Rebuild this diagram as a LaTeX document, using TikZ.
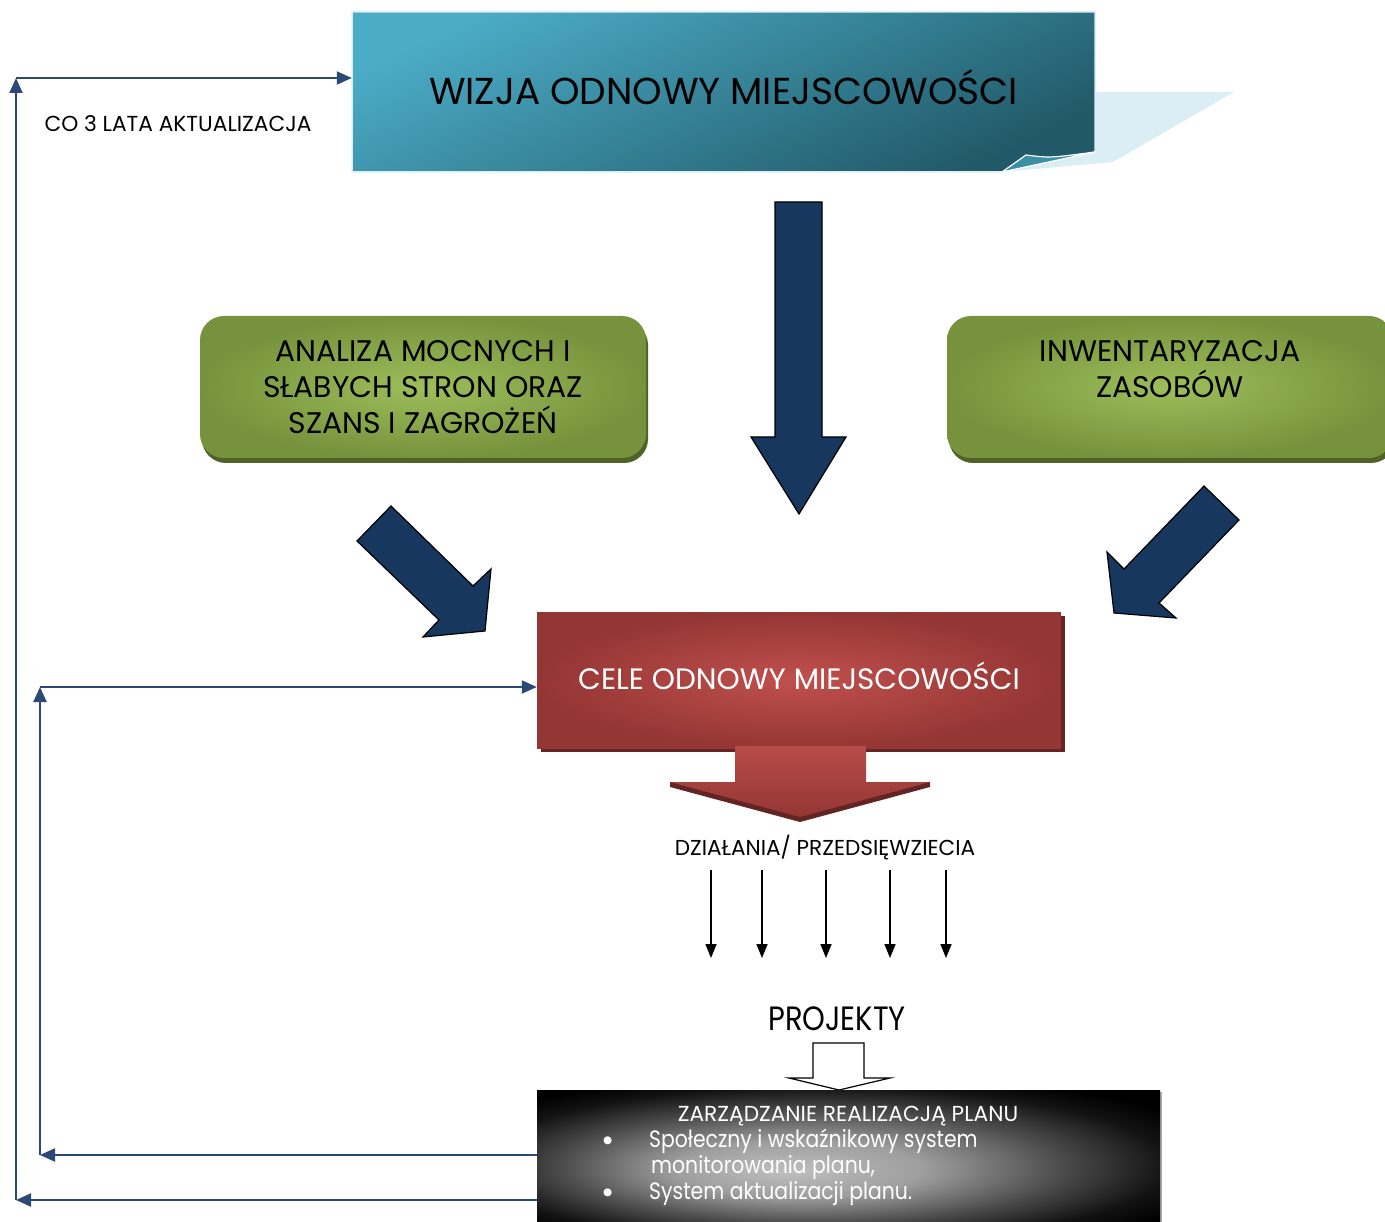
\documentclass[tikz,border=0pt]{standalone}
\usepackage{fontspec}
\setmainfont{Poppins}
\newfontfamily\narrowfont[FakeStretch=0.86]{Poppins}
\usetikzlibrary{arrows.meta,shadows}

\definecolor{navy}{HTML}{17375E}
\definecolor{retblue}{HTML}{2A4A75}
\definecolor{tealhi}{HTML}{4BACC6}
\definecolor{tealdk}{HTML}{215968}
\definecolor{curlteal}{HTML}{3A8FA5}
\definecolor{flapblue}{HTML}{DAEEF3}
\definecolor{greenhi}{HTML}{9DBE5B}
\definecolor{greendk}{HTML}{76923C}
\definecolor{greenshd}{HTML}{4F6228}
\definecolor{redhi}{HTML}{C0504D}
\definecolor{reddk}{HTML}{943634}
\definecolor{redshd}{HTML}{632523}

\pgfdeclareradialshading{planglow}{\pgfpoint{-5bp}{-4bp}}{%
  color(0bp)=(black!25); color(10bp)=(black!38); color(20bp)=(black!70);
  color(28bp)=(black!93); color(33bp)=(black); color(50bp)=(black)}

\tikzset{
  ret/.style={draw=retblue, line width=2.2pt, -{Triangle[length=15pt,width=13pt]}},
  act/.style={draw=black, line width=1.6pt, -{Triangle[length=14pt,width=11pt]}},
  greenbox/.style={rounded corners=24pt, inner color=greenhi, outer color=greendk,
    minimum width=446pt, minimum height=142pt, align=center,
    font=\fontsize{29.8}{36}\selectfont,
    drop shadow={fill=greenshd, opacity=1, shadow xshift=2pt, shadow yshift=-5pt}},
  blockarrow/.style={fill=navy, draw=black, line width=1.2pt, line join=miter},
  whitetext/.style={text=white, inner sep=0pt},
}

\begin{document}
\begin{tikzpicture}[x=1pt,y=-1pt]
\useasboundingbox (0,0) rectangle (1385,1222);
\clip (0,0) rectangle (1385,1222);

% top box with curled corner
\fill[flapblue] (1095,92) -- (1234,92) -- (1113,162) -- (1002,172) -- cycle;
\shade[top color=tealhi, bottom color=tealdk, shading angle=25, draw=flapblue, line width=1.5pt]
  (352,12) -- (1095,12) -- (1095,152) -- (1002,172) -- (352,172) -- cycle;
\filldraw[fill=curlteal, draw=white, line width=1.2pt]
  (1002,172) -- (1026,155) .. controls (1050,158) .. (1095,152) -- cycle;
\node[font=\fontsize{37.5}{40}\selectfont, minimum width=743pt, minimum height=150pt] (wizja) at (723.5,87) {WIZJA ODNOWY MIEJSCOWOŚCI};

% green boxes
\node[greenbox] (analiza) at (423,387) {ANALIZA MOCNYCH I\\SŁABYCH STRON ORAZ\\SZANS I ZAGROŻEŃ};
\node[greenbox] (zasoby) at (1170,387) {INWENTARYZACJA\\ZASOBÓW\\\mbox{}};

% navy block arrows
\draw[blockarrow] (775,202) -- (822,202) -- (822,437) -- (846,437) -- (799,514) -- (751,437) -- (775,437) -- cycle;
\draw[blockarrow] (391,506) -- (473,586) -- (491,569) -- (485,631) -- (423,637) -- (439,620) -- (357,541) -- cycle;
\draw[blockarrow] (1204,486) -- (1239,520) -- (1159,603) -- (1176,618) -- (1114,613) -- (1107,552) -- (1124,569) -- cycle;

% red box
\node[inner color=redhi, outer color=reddk, minimum width=524pt, minimum height=136pt,
  font=\fontsize{29.5}{32}\selectfont, text=white,
  drop shadow={fill=redshd, opacity=1, shadow xshift=4pt, shadow yshift=-4pt}] (cele) at (799,680) {\raisebox{8pt}{CELE ODNOWY MIEJSCOWOŚCI}};
\fill[redshd] (670,782) -- (930,782) -- (930,787) -- (800,822) -- (670,787) -- cycle;
\shade[top color=redhi!95!black, bottom color=reddk]
  (735,746) -- (866,746) -- (866,782) -- (930,782) -- (800,817) -- (670,782) -- (735,782) -- cycle;

% actions
\node[font=\fontsize{21.6}{24}\selectfont] (dzialania) at (825,848) {DZIAŁANIA/ PRZEDSIĘWZIECIA};
\foreach \x [count=\i] in {711,762,826,890,946} {
  \coordinate (t\i) at (\x,870);
  \coordinate (b\i) at (\x,958);
  \draw[act] (t\i) -- (b\i);
}

\node[font=\narrowfont\fontsize{33.7}{36}\selectfont] (projekty) at (837,1019) {PROJEKTY};
\draw[fill=white, draw=black, line width=1.2pt, line join=miter]
  (813,1043) -- (864,1043) -- (864,1078) -- (890,1078) -- (839,1090) -- (789,1078) -- (813,1078) -- cycle;

% plan management box
\node[shading=planglow, minimum width=623pt, minimum height=140pt,
  drop shadow={fill=black!35, opacity=1, shadow xshift=2pt, shadow yshift=-2pt}] (zarzadzanie) at (848.5,1160) {};
\node[whitetext, font=\fontsize{21.7}{24}\selectfont, anchor=base] (plan) at (848,1121) {ZARZĄDZANIE REALIZACJĄ PLANU};
\node[whitetext, font=\fontsize{32}{34}\selectfont, anchor=base] (dot1) at (608,1151) {•};
\node[whitetext, font=\fontsize{32}{34}\selectfont, anchor=base] (dot2) at (608,1203) {•};
\node[whitetext, font=\narrowfont\fontsize{23.7}{26}\selectfont, anchor=base west] (item1) at (649,1147) {Społeczny i wskaźnikowy system};
\node[whitetext, font=\narrowfont\fontsize{23.7}{26}\selectfont, anchor=base west] (item2) at (651,1173) {monitorowania planu,};
\node[whitetext, font=\narrowfont\fontsize{23.7}{26}\selectfont, anchor=base west] (item3) at (649,1199) {System aktualizacji planu.};

% update loops
\coordinate (outer bottom) at (16,1200);
\coordinate (outer top) at (16,78);
\coordinate (inner bottom) at (40,1155);
\coordinate (inner top) at (40,687);
\draw[ret] (zarzadzanie.west |- outer bottom) -- (outer bottom);
\draw[ret] (outer bottom) -- (outer top);
\draw[ret] (outer top) -- (outer top -| wizja.west);
\draw[ret] (zarzadzanie.west |- inner bottom) -- (inner bottom);
\draw[ret] (inner bottom) -- (inner top);
\draw[ret] (inner top) -- (inner top -| cele.west);
\node[font=\fontsize{21.7}{24}\selectfont] (cykl) at (178,124) {CO 3 LATA AKTUALIZACJA};
\end{tikzpicture}
\end{document}
